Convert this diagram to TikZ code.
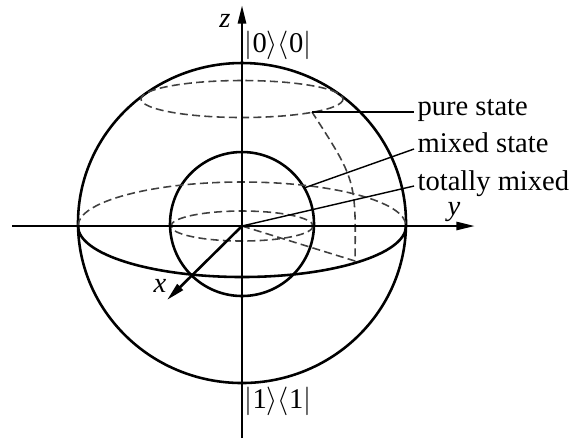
\documentclass[tikz,border=0pt]{standalone}
\usepackage{fontspec}
\setmainfont{Liberation Serif}
\usetikzlibrary{arrows.meta,calc}

\begin{document}
\begin{tikzpicture}[
  x=0.35pt, y=-0.35pt,
  font=\fontsize{10}{12}\selectfont,
  body/.style={line width=0.9pt, black},
  hidden/.style={line width=0.55pt, black!75, dash pattern=on 2.8pt off 1.5pt},
  leader/.style={line width=0.5pt, black},
  axis/.style={line width=0.9pt, black, -{Triangle[length=6.5pt, width=2.8pt]}},
  lbl/.style={inner sep=0pt, anchor=base west}
]
  \useasboundingbox (0,0) rectangle (574,441);

  % Points
  \coordinate (O) at (242,226);
  \coordinate (eqleft) at (78,226);
  \coordinate (P) at (355,261);
  \coordinate (Q) at (312,112);
  \coordinate (M) at (304,188);
  \coordinate (zbot) at (242,438);
  \coordinate (ztop) at (242,5);
  \coordinate (ystart) at (12,226);
  \coordinate (yend) at (475,226);
  \coordinate (xend) at (167,300);

  % Spheres
  \draw[body] (242,223) ellipse[x radius=164, y radius=160];
  \draw[body] (242,224) circle[radius=72];

  % Latitude circles
  \draw[body] (eqleft) arc[start angle=180, end angle=0, x radius=164, y radius=51];
  \draw[hidden] (eqleft) arc[start angle=180, end angle=360, x radius=164, y radius=44];
  \draw[hidden] (O) ellipse[x radius=71, y radius=15];
  \draw[hidden] (242,99) ellipse[x radius=101, y radius=18.5];

  % Meridian
  \draw[hidden] (O) -- (P) .. controls (356,180) .. (Q);

  % Axes
  \draw[axis] (zbot) -- (ztop);
  \draw[axis] (ystart) -- (yend);
  \draw[axis] (O) -- (xend);

  \node (zlbl) at (225,21) {\textit{z}};
  \node (ylbl) at (454,212) {\textit{y}};
  \node (xlbl) at (160,286) {\textit{x}};
  \node[anchor=west, inner sep=0pt] (ket0) at (244,45) {$|\mbox{0}\rangle\langle\mbox{0}|$};
  \node[anchor=west, inner sep=0pt] (ket1) at (244,401) {$|\mbox{1}\rangle\langle\mbox{1}|$};

  % States
  \node[lbl] (pure) at (417,115) {pure state};
  \node[lbl] (mixed) at (417,152) {mixed state};
  \node[lbl] (total) at (417,190) {totally mixed};

  \draw[leader] (Q) -- ($(pure.base west)+(-3,-3)$);
  \draw[leader] (M) -- ($(mixed.base west)+(-3,-3)$);
  \draw[leader] (O) -- ($(total.base west)+(-3,-4)$);
\end{tikzpicture}
\end{document}
